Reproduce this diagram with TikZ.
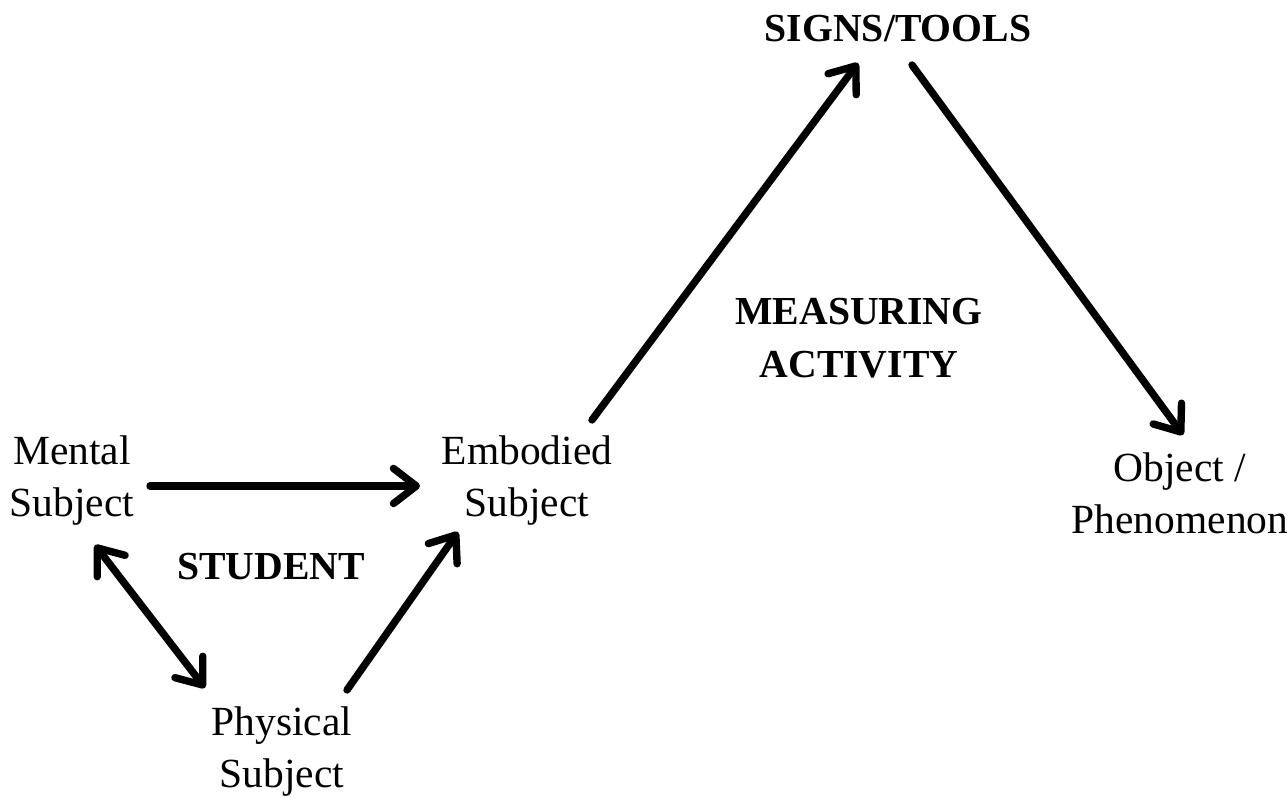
\documentclass[tikz,border=0pt]{standalone}
\usepackage{fontspec}
\setmainfont{Liberation Serif}
\usepackage{tikz}
\usetikzlibrary{
    arrows.meta,
    calc,
    positioning
}
\tikzset{lbl/.style={align=center, inner sep=0pt, font=\fontsize{11.8}{14.8}\selectfont}}
\tikzset{blbl/.style={align=center, inner sep=0pt, font=\fontsize{11.3}{15.2}\selectfont\bfseries}}
\tikzset{barb/.tip={Straight Barb[length=6.5pt, width=10pt, line cap=round, line join=round]}}
\tikzset{arr/.style={line width=2.1pt, line cap=round, -barb}}

\begin{document}
\begin{tikzpicture}
                        \useasboundingbox (0, 0) rectangle (12.87, 7.98);

                        \node[lbl] (ms) at (0.72, 3.17) {Mental\\Subject};
                        \node[lbl] (es) at (5.27, 3.17) {Embodied\\Subject};
                        \node[lbl] (ps) at (2.82, 0.46) {Physical\\Subject};
                        \node[lbl] (op) at (11.80, 3.05) {Object /\\Phenomenon};

                        \node[blbl] (st) at (8.98, 7.69) {SIGNS/TOOLS};
                        \node[blbl] (ma) at (8.59, 4.60) {MEASURING\\ACTIVITY};
                        \node[blbl] (stu) at (2.71, 2.31) {STUDENT};

                        \draw[arr] ($(ms) + (0.78, -0.05)$) -- ($(es) + (-1.07, -0.05)$);
                        \draw[arr, barb-barb]
                        ($(ms) + (0.23, -0.64)$) -- ($(ps) + (-0.77, 0.64)$);
                        \draw[arr] ($(ps) + (0.65, 0.62)$) -- ($(es) + (-0.69, -0.51)$);
                        \draw[arr] ($(es) + (0.65, 0.61)$) -- ($(st) + (-0.40, -0.34)$);
                        \draw[arr] ($(st) + (0.14, -0.36)$) -- ($(op) + (0.03, 0.58)$);
                    \end{tikzpicture}
\end{document}
